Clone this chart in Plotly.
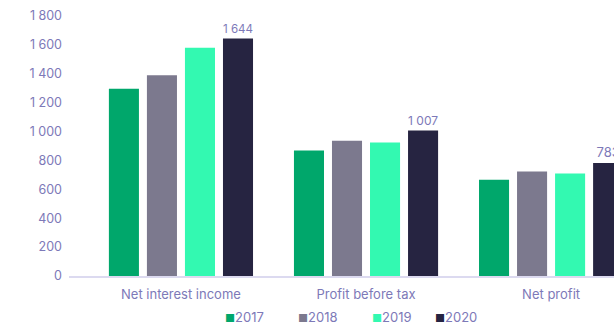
import plotly.graph_objects as go

categories = ["Net interest income", "Profit before tax", "Net profit"]
years = ["2017", "2018", "2019", "2020"]
values_2017 = [1296, 868, 667]
values_2018 = [1389, 937, 724]
values_2019 = [1581, 924, 710]
values_2020 = [1644, 1007, 783]
series = [values_2017, values_2018, values_2019, values_2020]
colors = ["#00a76b", "#7c798e", "#33f9b1", "#262441"]
y_ticks = [0, 200, 400, 600, 800, 1000, 1200, 1400, 1600, 1800]

TEXT = "#7d79b8"
FONT = "Inter, Roboto, sans-serif"

L_MARGIN, PLOT_W, PLOT_H, PLOT_BOTTOM = 69, 545, 260, 276


def fmt(v):
    return f"{v:,}".replace(",", " ")


fig = go.Figure()
for year, vals, col in zip(years, series, colors):
    show_labels = year == "2020"
    fig.add_trace(go.Bar(
        x=categories,
        y=vals,
        name=year,
        marker=dict(color=col, line=dict(width=0)),
        text=[fmt(v) for v in vals] if show_labels else None,
        textposition="outside" if show_labels else "none",
        textfont=dict(color=TEXT, size=13, family=FONT),
        cliponaxis=True,
    ))

# compact legend: small coloured square followed by the year
legend_px = [223, 296, 370, 433]
for year, col, px in zip(years, colors, legend_px):
    fig.add_annotation(
        x=(px - L_MARGIN) / PLOT_W, xref="paper", xanchor="left",
        y=-(317 - PLOT_BOTTOM) / PLOT_H, yref="paper", yanchor="middle",
        text=f'<span style="color:{col};font-size:11px">■</span>{year}',
        showarrow=False,
        font=dict(size=13, color=TEXT, family=FONT),
    )

fig.update_layout(
    width=614,
    height=326,
    margin=dict(l=L_MARGIN, r=0, t=16, b=50, autoexpand=False),
    paper_bgcolor="white",
    plot_bgcolor="white",
    barmode="group",
    bargap=0.178,
    bargroupgap=0.21,
    font=dict(family=FONT, color=TEXT, size=12),
    showlegend=False,
    xaxis=dict(
        range=[-0.605, 2.34],
        showgrid=False,
        showline=True,
        linecolor="#dcdaf0",
        linewidth=2,
        ticks="",
        ticklabelstandoff=5,
        tickfont=dict(size=13, color=TEXT, family=FONT),
    ),
    yaxis=dict(
        range=[0, 1800],
        tickvals=y_ticks,
        ticktext=[fmt(v) for v in y_ticks],
        showgrid=False,
        zeroline=False,
        showline=False,
        ticks="",
        ticklabelstandoff=6,
        tickfont=dict(size=12.5, color=TEXT, family=FONT),
    ),
)

fig.write_html("out.html")
